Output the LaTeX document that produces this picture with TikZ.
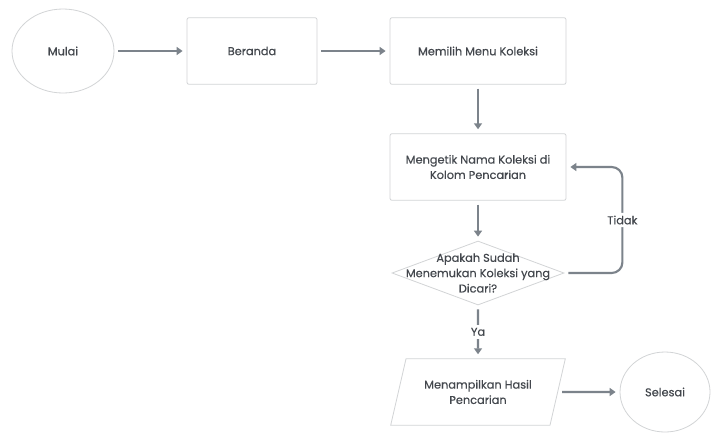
\documentclass[tikz,border=0pt]{standalone}
\usepackage{fontspec}
\setmainfont{Poppins}[FakeBold=0.35]
\usetikzlibrary{shapes.geometric,arrows.meta}

\definecolor{garis}{HTML}{D2D4D6}
\definecolor{panah}{HTML}{7C838B}
\definecolor{teks}{HTML}{43474D}

\tikzset{
  kotak/.style={draw=garis, line width=0.6pt, rounded corners=1.5pt, minimum width=#1, minimum height=50pt, align=center},
  oval/.style={draw=garis, line width=0.6pt, ellipse, align=center},
  keputusan/.style={draw=garis, line width=0.6pt, diamond, inner sep=0pt, minimum width=129pt, minimum height=48pt},
  jajar/.style={draw=garis, line width=0.6pt, trapezium, trapezium left angle=65, trapezium right angle=115, trapezium stretches body, minimum width=131pt, minimum height=50pt, align=center},
  panahan/.style={draw=panah, line width=1.6pt, -{Triangle[length=4.5pt,width=6pt]}, shorten <=3pt, shorten >=3pt},
  label/.style={fill=white, text=teks, inner sep=2pt}
}

\begin{document}
\begin{tikzpicture}[x=0.75pt, y=-0.75pt, every node/.style={text=teks, font=\fontsize{8.5}{11.5}\selectfont}]
          \useasboundingbox[fill=white] (0,0) rectangle (712,433);
          \node[oval, minimum width=76.5pt, minimum height=63pt] (mulai) at (63, 51) {Mulai};
          \node[kotak=97.5pt] (beranda) at (252, 51) {Beranda};
          \node[kotak=132pt] (menu) at (478, 51) {Memilih Menu Koleksi};
          \node[kotak=132pt] (ketik) at (478, 167) {Mengetik Nama Koleksi di\\Kolom Pencarian};
          \node[keputusan] (cek) at (478, 273) {};
          \node[align=center] (cektxt) at (478, 273) {Apakah Sudah\\Menemukan Koleksi yang\\Dicari?};
          \node[jajar] (hasil) at (478, 392) {Menampilkan Hasil\\Pencarian};
          \node[oval, minimum width=67.5pt, minimum height=60pt] (selesai) at (665, 392) {Selesai};
          %
          \draw[panahan] (mulai) -- (beranda);
          \draw[panahan] (beranda) -- (menu);
          \draw[panahan] (menu) -- (ketik);
          \draw[panahan] (ketik) -- (cek);
          \draw[panahan] (cek) -- node[label] {Ya} (hasil);
          \draw[panahan, rounded corners=8pt] (cek.east) -- ++(58, 0) |- node[label, pos=0.25] {Tidak} (ketik.east);
          \draw[panahan] (hasil) -- (selesai);
        \end{tikzpicture}
\end{document}
